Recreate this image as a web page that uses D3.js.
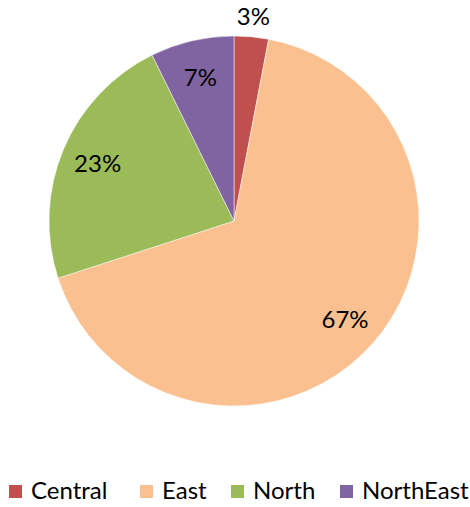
<!DOCTYPE html>
<html>
<head>
<meta charset="utf-8">
<script src="https://cdn.jsdelivr.net/npm/d3@7"></script>
<style>
  body { margin: 0; background: #fff; }
  text { font-family: Lato, "Open Sans", sans-serif; fill: #000; }
</style>
</head>
<body>
<div class="chart"></div>
<script>
var regions = ["Central", "East", "North", "NorthEast"];
var shares = [3, 67, 22.7, 7.3];
var colors = ["#C0504D", "#FAC090", "#9BBB59", "#8064A2"];

var width = 470, height = 507;
var cx = 234, cy = 221, radius = 185;

var svg = d3.select(".chart").append("svg")
    .attr("width", width)
    .attr("height", height);

var data = regions.map(function(r, i){
	return {name: r, value: shares[i], color: colors[i]};
});

var pie = d3.pie()
    .sort(null)
    .value(function(d){ return d.value; });

var arcs = pie(data);
var total = d3.sum(shares);

var arc = d3.arc().innerRadius(0).outerRadius(radius);
var labelArc = d3.arc().innerRadius(148).outerRadius(148);
var outerLabelArc = d3.arc().innerRadius(206).outerRadius(206);

var g = svg.append("g").attr("transform", "translate(" + cx + "," + cy + ")");

g.selectAll("path")
    .data(arcs)
  .enter().append("path")
    .attr("d", arc)
    .style("fill", function(d){ return d.data.color; })
    .style("stroke", "#fff")
    .style("stroke-width", "0.5px");

// small slices get their label outside the pie
g.selectAll("text.lbl")
    .data(arcs)
  .enter().append("text")
    .attr("class", "lbl")
    .attr("transform", function(d){
    	var small = d.data.value / total < 0.05;
    	var c = (small ? outerLabelArc : labelArc).centroid(d);
    	return "translate(" + c[0] + "," + c[1] + ")";
    })
    .attr("text-anchor", "middle")
    .attr("dy", "0.36em")
    .style("font-size", "24px")
    .text(function(d){ return Math.round(d.data.value / total * 100) + "%"; });

// legend
var legendX = [9, 140, 231, 340];
var legend = svg.selectAll("g.legend")
    .data(data)
  .enter().append("g")
    .attr("class", "legend")
    .attr("transform", function(d, i){ return "translate(" + legendX[i] + ",485)"; });

legend.append("rect")
    .attr("width", 13)
    .attr("height", 13)
    .style("fill", function(d){ return d.color; });

legend.append("text")
    .attr("x", 22)
    .attr("y", 14)
    .style("font-size", "24px")
    .text(function(d){ return d.name; });
</script>
</body>
</html>
